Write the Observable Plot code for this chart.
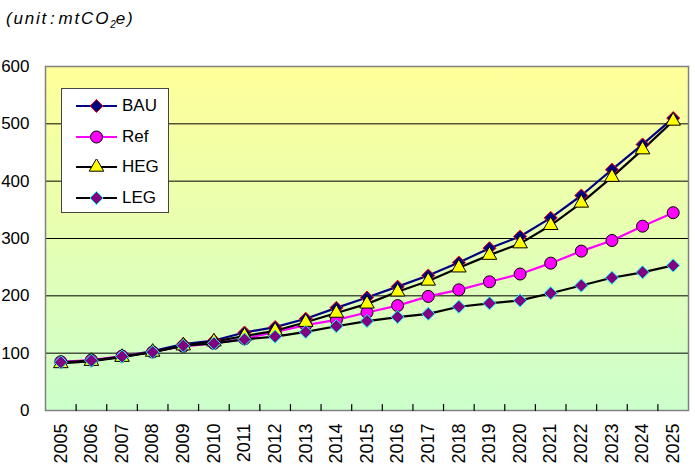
<!DOCTYPE html>
<html>
<head>
<meta charset="utf-8">
<script src="https://cdn.jsdelivr.net/npm/d3@7"></script>
<script src="https://cdn.jsdelivr.net/npm/@observablehq/plot@0.6"></script>
<style>
  body { margin: 0; background: white; font-family: "Liberation Sans", Arial, sans-serif; }
  #wrap { position: relative; width: 695px; height: 473px; overflow: hidden; }
  #title { height: 40px; font-style: italic; font-size: 17px; letter-spacing: 1.8px; padding-left: 6px; line-height: 38px; box-sizing: border-box; }
  #title sub { font-size: 10px; letter-spacing: 0; }
  #legend { position: absolute; left: 61px; top: 88px; width: 108px; height: 125px; background: white; border: 1px solid #444; box-sizing: border-box; }
  .item { position: absolute; left: 0; height: 24px; display: flex; align-items: center; font-size: 17px; }
  .item svg { margin-left: 14px; margin-right: 4px; }
</style>
</head>
<body>
<div id="wrap">
  <div id="title">(unit<span style="padding:0 2px">:</span>mtCO<sub>2</sub>e)</div>
  <div id="chart"></div>
  <div id="legend"></div>
</div>
<script>
const years = [2005,2006,2007,2008,2009,2010,2011,2012,2013,2014,2015,2016,2017,2018,2019,2020,2021,2022,2023,2024,2025];
const bau = [84,87,94,103.5,116,122,136,145.5,160,179,197,216,235.5,258,283,303.5,336,375,420,464,510];
const refv = [85,88,95,102,112,117,125,137,149,158,171,183,199,210.5,224.5,238,257,278,296.5,321.5,345];
const heg = [82,86,93,102,113,120,130,139,154,170,186,207,226,249,271,291,323,362,407,455,505];
const leg = [84,87,94,101.7,113,117,124,129,137,147,156,163,168.6,181,187,192,204.6,218,231.5,241,253];
const yTicks = [0,100,200,300,400,500,600];
const gridValues = [100,200,300,400,500];

const seriesNames = ["BAU","Ref","HEG","LEG"];
const seriesValues = [bau, refv, heg, leg];

// square diamond symbol
const diamondSq = {
  draw(context, size) {
    const h = Math.sqrt(size / 2);
    context.moveTo(0, -h);
    context.lineTo(h, 0);
    context.lineTo(0, h);
    context.lineTo(-h, 0);
    context.closePath();
  }
};
const styles = {
  BAU: {line: "#000080", symbol: diamondSq, fill: "#000080", stroke: "#ff0000", r: 5.2},
  Ref: {line: "#ff00ff", symbol: d3.symbolCircle, fill: "#ff00ff", stroke: "#000000", r: 6},
  HEG: {line: "#000000", symbol: d3.symbolTriangle, fill: "#ffff00", stroke: "#000000", r: 5.4},
  LEG: {line: "#000000", symbol: diamondSq, fill: "#800080", stroke: "#00ffff", r: 5.2}
};

const boundaries = years.slice(0, -1).map(y => y + 0.5);

const marks = [
  Plot.frame({fill: "url(#bg)"}),
  Plot.ruleY(gridValues, {stroke: "#000", strokeWidth: 1}),
  Plot.frame({stroke: "#808080", strokeWidth: 1.5}),
  Plot.vector(boundaries, {x: d => d, y: () => 0, length: 6, rotate: 0, anchor: "start", stroke: "#000", strokeWidth: 1.2, shape: {draw(ctx, l) { ctx.moveTo(0, 0); ctx.lineTo(0, -l); }}}),
  Plot.axisY(yTicks, {tickSize: 0, tickPadding: 16, fontSize: 17, label: null, tickFormat: d => d}),
  Plot.axisX(years, {tickSize: 0, tickPadding: 13, tickRotate: -90, fontSize: 18, label: null, tickFormat: d => String(d)})
];
seriesNames.forEach((name, i) => {
  const data = years.map((y, j) => ({year: y, value: seriesValues[i][j]}));
  const s = styles[name];
  marks.push(Plot.line(data, {x: "year", y: "value", stroke: s.line, strokeWidth: 2.2}));
});
seriesNames.forEach((name, i) => {
  const data = years.map((y, j) => ({year: y, value: seriesValues[i][j]}));
  const s = styles[name];
  marks.push(Plot.dot(data, {x: "year", y: "value", symbol: s.symbol, fill: s.fill, stroke: s.stroke, strokeWidth: 1, r: s.r}));
});

const chart = Plot.plot({
  width: 695,
  height: 433,
  marginLeft: 45,
  marginRight: 7,
  marginTop: 26,
  marginBottom: 63,
  style: {fontFamily: "'Liberation Sans', Arial, sans-serif", background: "transparent", color: "#000"},
  x: {type: "linear", domain: [2004.5, 2025.5], axis: null, label: null},
  y: {domain: [0, 600], axis: null, label: null},
  marks
});
// gradient definition
const ns = "http://www.w3.org/2000/svg";
const defs = document.createElementNS(ns, "defs");
const lg = document.createElementNS(ns, "linearGradient");
lg.setAttribute("id", "bg");
lg.setAttribute("x1", "0"); lg.setAttribute("y1", "0");
lg.setAttribute("x2", "0"); lg.setAttribute("y2", "1");
[["0%", "#ffff99"], ["100%", "#ccffcc"]].forEach(([o, c]) => {
  const st = document.createElementNS(ns, "stop");
  st.setAttribute("offset", o); st.setAttribute("stop-color", c);
  lg.appendChild(st);
});
defs.appendChild(lg);
chart.insertBefore(defs, chart.firstChild);
document.getElementById("chart").appendChild(chart);

// legend
const legendEl = document.getElementById("legend");
seriesNames.forEach((name, i) => {
  const s = styles[name];
  const item = document.createElement("div");
  item.className = "item";
  item.style.top = (5 + i * 30.5) + "px";
  const sym = d3.symbol(s.symbol, Math.PI * s.r * s.r)();
  item.innerHTML = `<svg width="42" height="16"><line x1="0" y1="8" x2="41" y2="8" stroke="${s.line}" stroke-width="2.2"/><path d="${sym}" transform="translate(20.5,8)" fill="${s.fill}" stroke="${s.stroke}" stroke-width="1"/></svg><span>${name}</span>`;
  legendEl.appendChild(item);
});
</script>
</body>
</html>
